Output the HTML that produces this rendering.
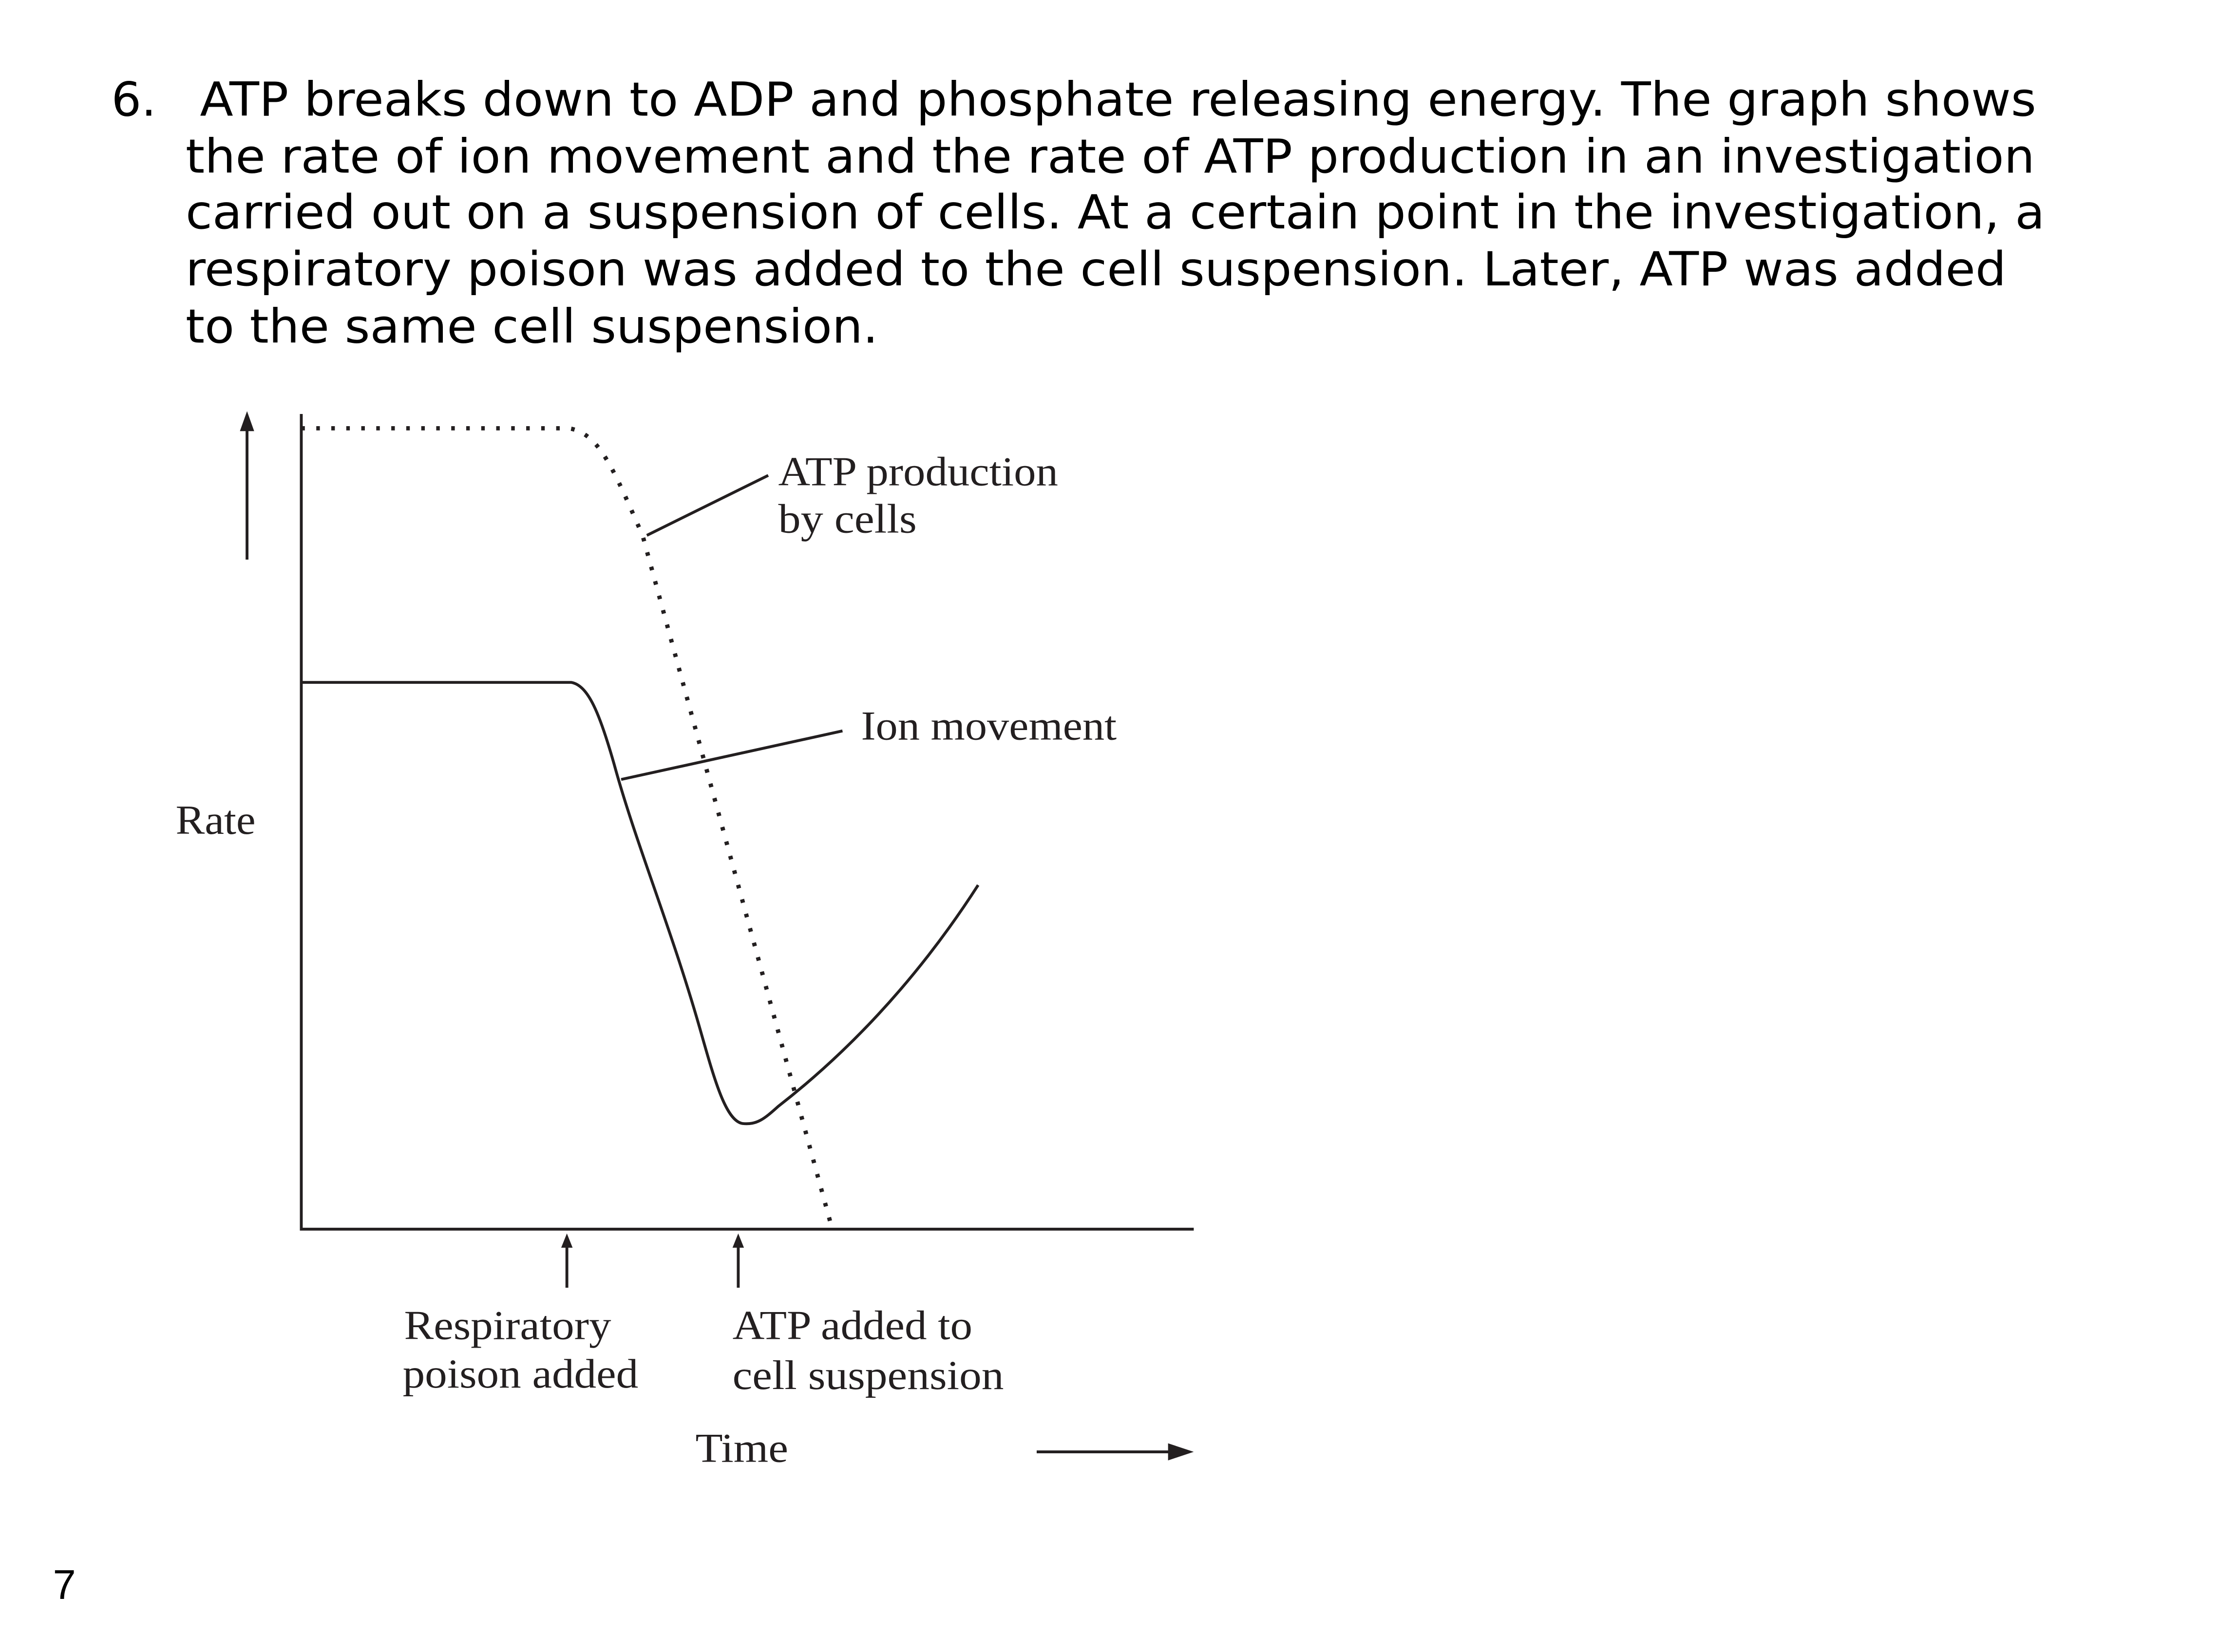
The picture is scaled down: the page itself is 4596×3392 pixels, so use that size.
<!DOCTYPE html>
<html><head><meta charset="utf-8"><style>
html,body{margin:0;padding:0;background:#fff;}
svg{display:block;}
.t{font-family:"DejaVu Sans","Liberation Sans",sans-serif;font-size:33px;fill:#000;}
.s{font-family:"Liberation Serif",serif;font-size:29px;fill:#231f20;}
</style></head><body>
<svg width="4596" height="3392" viewBox="0 0 1568 1157.2" preserveAspectRatio="none" xmlns="http://www.w3.org/2000/svg">
<text class="t" x="78" y="81">6.</text>
<text class="t" x="140" y="81" textLength="1286" lengthAdjust="spacingAndGlyphs">ATP breaks down to ADP and phosphate releasing energy. The graph shows</text>
<text class="t" x="130" y="121" textLength="1295" lengthAdjust="spacingAndGlyphs">the rate of ion movement and the rate of ATP production in an investigation</text>
<text class="t" x="130" y="160" textLength="1302" lengthAdjust="spacingAndGlyphs">carried out on a suspension of cells. At a certain point in the investigation, a</text>
<text class="t" x="130" y="200" textLength="1275" lengthAdjust="spacingAndGlyphs">respiratory poison was added to the cell suspension. Later, ATP was added</text>
<text class="t" x="130" y="240" textLength="485" lengthAdjust="spacingAndGlyphs">to the same cell suspension.</text>
<g stroke="#231f20" fill="none" stroke-width="2">
<path d="M211 290 V861 H836"/>
<path d="M173 392 V298"/>
<path d="M211 478 H400 C412 480 420 500 430 535 C445 590 470 650 490 720 C500 755 508 785 520 787 C530 788 535 784 545 775 C590 740 640 690 685 620"/>
<path d="M435 546 L590 512"/>
<path d="M453 375 L538 333"/>
<path d="M397 902 V870 M517 902 V870"/>
<path d="M726 1017 H820"/>
</g>
<path d="M211 300 H398 C420 303 430 330 450 375 L582 858" stroke="#231f20" stroke-width="3" fill="none" stroke-dasharray="2.5 8"/>
<polygon points="173,288 168,302 178,302" fill="#231f20"/>
<polygon points="397,864 393,874 401,874" fill="#231f20"/>
<polygon points="517,864 513,874 521,874" fill="#231f20"/>
<polygon points="836,1017 818,1011 818,1023" fill="#231f20"/>
<text class="s" x="545" y="340" textLength="196" lengthAdjust="spacingAndGlyphs">ATP production</text>
<text class="s" x="545" y="373" textLength="97" lengthAdjust="spacingAndGlyphs">by cells</text>
<text class="s" x="603" y="518" textLength="179" lengthAdjust="spacingAndGlyphs">Ion movement</text>
<text class="s" x="123" y="584" textLength="56" lengthAdjust="spacingAndGlyphs">Rate</text>
<text class="s" x="283" y="938" textLength="145" lengthAdjust="spacingAndGlyphs">Respiratory</text>
<text class="s" x="282" y="972" textLength="165" lengthAdjust="spacingAndGlyphs">poison added</text>
<text class="s" x="513" y="938" textLength="168" lengthAdjust="spacingAndGlyphs">ATP added to</text>
<text class="s" x="513" y="973" textLength="190" lengthAdjust="spacingAndGlyphs">cell suspension</text>
<text class="s" x="487" y="1024" textLength="65" lengthAdjust="spacingAndGlyphs">Time</text>
<text x="37" y="1120" style="font-family:'Liberation Sans',sans-serif;font-size:29px;fill:#000">7</text>
</svg>
</body></html>
